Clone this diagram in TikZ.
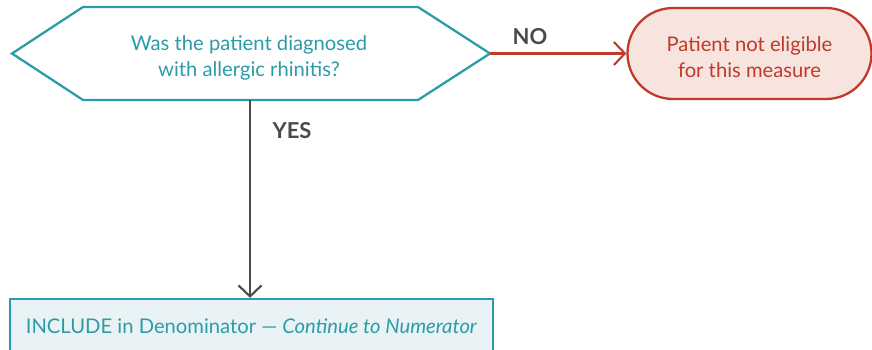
\documentclass[tikz,border=0pt]{standalone}
\usepackage{fontspec}
\setmainfont{Lato}
\usepackage{tikz}
\usetikzlibrary{arrows.meta,positioning}
\definecolor{qteal}{HTML}{2B9CA8}
\definecolor{qred}{HTML}{C0392B}
\definecolor{qpink}{HTML}{F7E4DE}
\definecolor{qpale}{HTML}{E9F2F4}
\definecolor{qgrey}{HTML}{4A4A4A}

\begin{document}
\begin{tikzpicture}[
	flowline/.style={line width=1.2pt, -{Straight Barb[length=2.2mm,width=4.6mm]}},
	answer/.style={font=\bfseries\fontsize{12.5}{15}\selectfont, text=qgrey},
	boxtext/.style={font=\fontsize{11.5}{15.2}\selectfont, align=center},
	]
	\clip (0,0) rectangle (17.44,6.98);

	% decision hexagon
	\coordinate (qW) at (0.24,5.91);
	\coordinate (qE) at (9.80,5.91);
	\coordinate (qS) at (5.00,4.98);
	\draw [qteal, line width=1.3pt, fill=white] (qW) -- (1.66,6.84) -- (8.36,6.84) -- (qE)
		-- (8.36,4.98) -- (1.66,4.98) -- cycle;
	\node (Q) [boxtext, text=qteal] at (4.98,5.82) {Was the patient diagnosed\\with allergic rhinitis?};

	\node (X) [draw=qred, line width=1.3pt, fill=qpink, rounded corners=0.91cm,
		minimum width=4.88cm, minimum height=1.82cm,
		label={[boxtext, text=qred, yshift=-0.07cm]center:{Patient not eligible\\for this measure}}]
		at (14.99,5.91) {};

	\node (D) [boxtext, draw=qteal, line width=1.3pt, fill=qpale, minimum width=9.66cm,
		minimum height=1.08cm, text=qteal]
		at (5.03,0.46) {INCLUDE in Denominator --- \textit{Continue to Numerator}};

	\draw [flowline, qred] (qE) -- (X.west);
	\draw [flowline, qgrey] (qS) -- (D.north -| qS);

	\node (no) [answer] at (10.6,6.24) {NO};
	\node (yes) [answer] at (5.84,4.36) {YES};
\end{tikzpicture}
\end{document}
